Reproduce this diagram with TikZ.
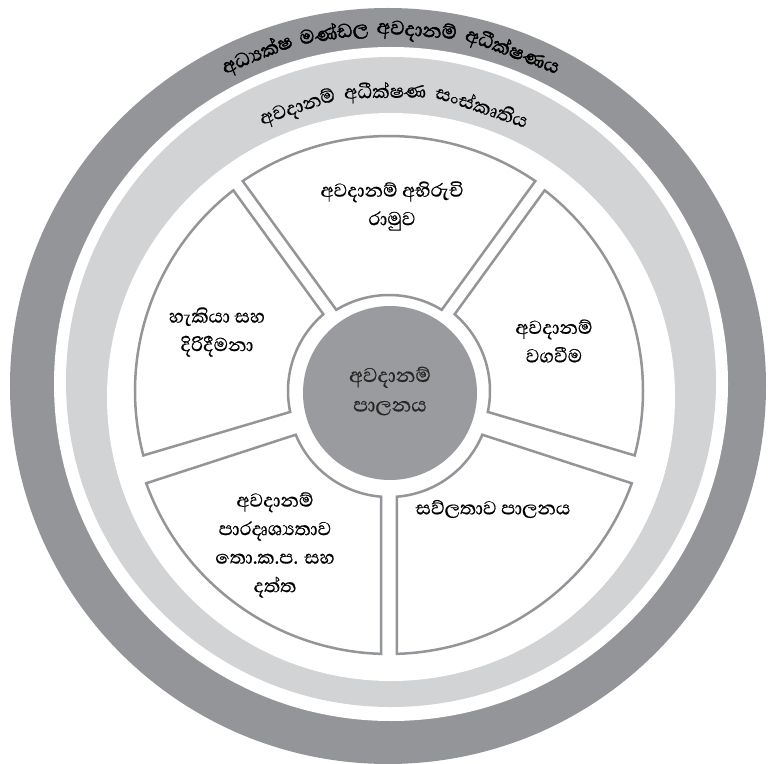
\documentclass[tikz,border=0pt]{standalone}
\usepackage{fontspec}
\newfontfamily\sinhfont[Script=Sinhala, FakeBold=0.6]{Abhaya Libre}
\newfontfamily\sinhheavy[Script=Sinhala, FakeBold=1.8]{Abhaya Libre}
\definecolor{darkring}{HTML}{939598}
\definecolor{lightring}{HTML}{D1D3D4}
\definecolor{secline}{HTML}{939598}
\definecolor{hubfill}{HTML}{9A9B9E}
\newlength\arcwd
\newcommand\measureword[2]{%
  \pgfinterruptpicture\settowidth\arcwd{#1#2}\global\arcwd=\arcwd\endpgfinterruptpicture}
% #1 baseline radius, #2 font, #3 word gap, #4 name prefix, #5 centre angle, #6 words
\newcommand\ringwords[6]{%
  \xdef\arctot{0}%
  \foreach \w [count=\i] in {#6}{%
    \measureword{#2}{\w}%
    \pgfmathsetmacro\tmpa{\arctot+\arcwd}%
    \xdef\arctot{\tmpa}%
    \xdef\arccnt{\i}%
  }%
  \pgfmathsetmacro\tmpa{\arctot+(\arccnt-1)*#3}%
  \pgfmathsetmacro\tmpb{#5+\tmpa/2/#1*180/pi}%
  \xdef\arccur{\tmpb}%
  \foreach \w [count=\i] in {#6}{%
    \measureword{#2}{\w}%
    \pgfmathsetmacro\amid{\arccur-\arcwd/2/#1*180/pi}%
    \node[rotate=\amid-90, anchor=base, inner sep=0pt] (#4\i) at (\amid:#1pt) {#2\w};
    \pgfmathsetmacro\tmpa{\arccur-(\arcwd+#3)/#1*180/pi}%
    \xdef\arccur{\tmpa}%
  }%
}
% annular sector: #1 a1, #2 a2, #3 ri, #4 ro, #5 half gap, #6 shift x, #7 shift y
\newcommand\annsec[7]{%
  \pgfmathsetmacro\dout{asin(#5/#4)}%
  \pgfmathsetmacro\din{asin(#5/#3)}%
  \begin{scope}[shift={(#6pt,#7pt)}]
    \draw[secstyle] ({#1+\dout}:#4pt) arc[start angle={#1+\dout}, end angle={#2-\dout}, radius=#4pt]
      -- ({#2-\din}:#3pt) arc[start angle={#2-\din}, end angle={#1+\din}, radius=#3pt] -- cycle;
  \end{scope}
}
\tikzset{
  secstyle/.style={draw=secline, line width=2.5pt, fill=white, line join=miter},
  sectext/.style={font=\sinhfont\fontsize{24}{28.5}\selectfont, align=center, inner sep=0pt, text=black},
  hubtext/.style={font=\sinhfont\fontsize{25.5}{29.5}\selectfont, align=center, inner sep=0pt, text=black!85},
}
\begin{document}
\begin{tikzpicture}[x=1pt,y=1pt]
\useasboundingbox (-389,-380) rectangle (384,383);
\fill[white] (-389,-380) rectangle (384,383);
% outer dark ring
\fill[darkring] (-1,-3) circle[radius=378];
\fill[white] (2,-1) circle[radius=337];
% light ring
\fill[lightring] (2,1) circle[radius=325];
\fill[white] (2,-14) circle[radius=284];
% ring texts
\ringwords{348}{\sinhheavy\fontsize{25}{29}\selectfont}{7}{outer}{89.7}{අධ්‍යක්ෂ,මණ්ඩල,අවදානම්,අධීක්ෂණය}
\ringwords{285}{\sinhfont\fontsize{24.5}{28}\selectfont}{7}{inner}{89}{අවදානම්,අධීක්ෂණ,සංස්කෘතිය}
% sectors
\annsec{54}{126}{101}{260}{8}{0}{-13}
\annsec{126}{196.5}{101}{254}{8}{0}{-8}
\annsec{-16.5}{54}{101}{254}{8}{0}{-8}
\annsec{198}{270}{101}{258}{8}{0}{-13}
\annsec{270}{342}{101}{258}{8}{0}{-13}
% hub
\fill[hubfill] (1,-10) circle[radius=87];
% texts
\node[sectext] (appetite) at (3,177) {අවදානම් අභිරුචි\\රාමුව};
\node[sectext] (capab) at (-172,51) {හැකියා සහ\\දිරිදීමනා};
\node[sectext] (account) at (165,42) {අවදානම්\\වගවීම};
\node[hubtext] (hub) at (1,-8) {අවදානම්\\පාලනය};
\node[sectext] (transp) at (-114,-162) {අවදානම්\\පාරදෘශ්‍යතාව\\තො.ක.ප. සහ\\දත්ත};
\node[sectext] (liquid) at (104,-126) {සව්ලතාව පාලනය};
\end{tikzpicture}
\end{document}
